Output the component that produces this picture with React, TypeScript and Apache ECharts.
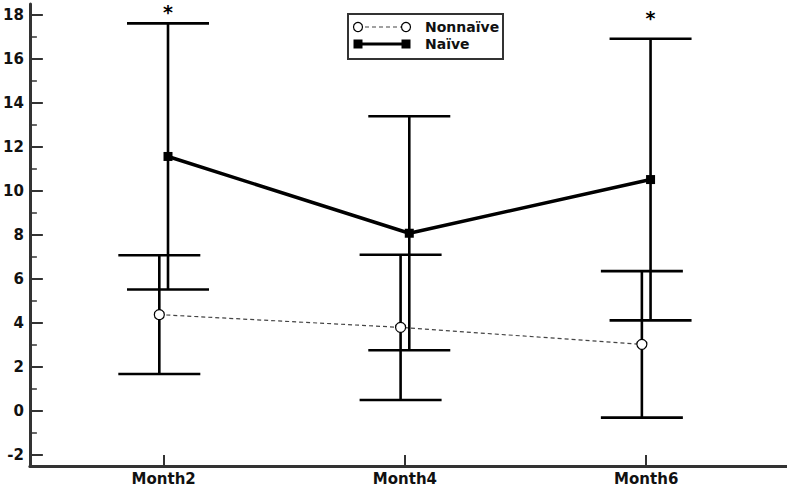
import React, { useEffect, useRef } from "react";
import * as echarts from "echarts";

const CATEGORIES = ["Month2", "Month4", "Month6"];
const MONTHS = [2, 4, 6];
const NONNAIVE_MEAN = [4.38, 3.8, 3.03];
const NONNAIVE_SD = [2.7, 3.3, 3.33];
const NAIVE_MEAN = [11.57, 8.08, 10.52];
const NAIVE_SD = [6.05, 5.32, 6.4];
const SIG_MARK = ["*", "", "*"];
const SIG_Y = [18.36, 0, 18.1];
const Y_TICKS = [-2, 0, 2, 4, 6, 8, 10, 12, 14, 16, 18];
const Y_MINOR_TICKS = [-1, 1, 3, 5, 7, 9, 11, 13, 15, 17];

const FONT = '"DejaVu Sans", "Liberation Sans", Arial, sans-serif';
const DODGE = 0.036;
const CAP_HALF = 41;

function errorBarSeries(name: string, xs: number[], mean: number[], sd: number[]) {
  return {
    type: "custom",
    name: name + " SD",
    z: 1,
    clip: false,
    data: xs.map((x, i) => [x, mean[i], sd[i]]),
    renderItem: (params: any, api: any) => {
      const x = api.value(0);
      const m = api.value(1);
      const s = api.value(2);
      const top = api.coord([x, m + s]);
      const bot = api.coord([x, m - s]);
      const style = { stroke: "#000", lineWidth: 2.6 };
      return {
        type: "group",
        children: [
          { type: "line", shape: { x1: top[0], y1: top[1], x2: bot[0], y2: bot[1] }, style },
          { type: "line", shape: { x1: top[0] - CAP_HALF, y1: top[1], x2: top[0] + CAP_HALF, y2: top[1] }, style },
          { type: "line", shape: { x1: bot[0] - CAP_HALF, y1: bot[1], x2: bot[0] + CAP_HALF, y2: bot[1] }, style },
        ],
      };
    },
  };
}

export default function App() {
  const ref = useRef<HTMLDivElement>(null);
  useEffect(() => {
    if (!ref.current) return;
    const chart = echarts.init(ref.current, null, { renderer: "svg" });
    const nonX = MONTHS.map((m) => m - DODGE);
    const naiveX = MONTHS.map((m) => m + DODGE);
    const axisLine = { show: true, onZero: false, lineStyle: { color: "#333", width: 3 } };
    const labelStyle = { color: "#111", fontWeight: "bold", fontSize: 15, fontFamily: FONT };
    chart.setOption({
      animation: false,
      backgroundColor: "#fff",
      grid: { left: 26, right: 0, top: 4, bottom: 19, containLabel: false },
      xAxis: {
        type: "value",
        min: 0.891,
        max: 7.167,
        splitLine: { show: false },
        axisLine,
        axisTick: { show: true, inside: true, length: 11, customValues: MONTHS, lineStyle: { color: "#333", width: 2 } },
        axisLabel: {
          ...labelStyle,
          margin: 5,
          customValues: MONTHS,
          formatter: (v: number) => CATEGORIES[MONTHS.indexOf(Math.round(v))] ?? "",
        },
      },
      yAxis: [
        {
          type: "value",
          min: -2.5,
          max: 18.5,
          splitLine: { show: false },
          axisLine,
          axisTick: { show: true, inside: true, length: 13, customValues: Y_TICKS, lineStyle: { color: "#333", width: 2 } },
          axisLabel: { ...labelStyle, margin: 6, customValues: Y_TICKS },
        },
        {
          type: "value",
          position: "left",
          min: -2.5,
          max: 18.5,
          splitLine: { show: false },
          axisLine: { show: false, onZero: false },
          axisTick: { show: true, inside: true, length: 7, customValues: Y_MINOR_TICKS, lineStyle: { color: "#333", width: 1.5 } },
          axisLabel: { show: false },
        },
      ],
      series: [
        errorBarSeries("Nonnaïve", nonX, NONNAIVE_MEAN, NONNAIVE_SD),
        errorBarSeries("Naïve", naiveX, NAIVE_MEAN, NAIVE_SD),
        {
          type: "line",
          name: "Nonnaïve",
          z: 3,
          data: nonX.map((x, i) => [x, NONNAIVE_MEAN[i]]),
          symbol: "circle",
          symbolSize: 10,
          itemStyle: { color: "#fff", borderColor: "#000", borderWidth: 1.2 },
          lineStyle: { color: "#444", width: 1.2, type: [4, 3] },
        },
        {
          type: "line",
          name: "Naïve",
          z: 4,
          data: naiveX.map((x, i) => [x, NAIVE_MEAN[i]]),
          symbol: "rect",
          symbolSize: 9,
          itemStyle: { color: "#000" },
          lineStyle: { color: "#000", width: 3.5 },
        },
        {
          type: "custom",
          name: "significance",
          z: 5,
          clip: false,
          data: naiveX.map((x, i) => [x, SIG_Y[i], i]),
          renderItem: (params: any, api: any) => {
            const i = api.value(2);
            const mark = SIG_MARK[i];
            if (!mark) return null;
            const p = api.coord([api.value(0), api.value(1)]);
            return {
              type: "text",
              x: p[0],
              y: p[1] + 5,
              style: { text: mark, fill: "#000", font: `bold 19px ${FONT}`, align: "center", verticalAlign: "middle" },
            };
          },
        },
      ],
      graphic: [
        { type: "rect", shape: { x: 348, y: 14, width: 155, height: 45 }, style: { fill: "#fff", stroke: "#333", lineWidth: 2 }, z: 10 },
        { type: "line", shape: { x1: 358, y1: 27, x2: 406, y2: 27 }, style: { stroke: "#444", lineWidth: 1.2, lineDash: [4, 3] }, z: 11 },
        { type: "circle", shape: { cx: 358, cy: 27, r: 4.5 }, style: { fill: "#fff", stroke: "#000", lineWidth: 1.2 }, z: 12 },
        { type: "circle", shape: { cx: 406, cy: 27, r: 4.5 }, style: { fill: "#fff", stroke: "#000", lineWidth: 1.2 }, z: 12 },
        { type: "text", x: 425, y: 27, style: { text: "Nonnaïve", fill: "#111", font: `bold 14px ${FONT}`, verticalAlign: "middle" }, z: 12 },
        { type: "line", shape: { x1: 358, y1: 44, x2: 406, y2: 44 }, style: { stroke: "#000", lineWidth: 3 }, z: 11 },
        { type: "rect", shape: { x: 353.5, y: 39.5, width: 9, height: 9 }, style: { fill: "#000" }, z: 12 },
        { type: "rect", shape: { x: 401.5, y: 39.5, width: 9, height: 9 }, style: { fill: "#000" }, z: 12 },
        { type: "text", x: 425, y: 44, style: { text: "Naïve", fill: "#111", font: `bold 14px ${FONT}`, verticalAlign: "middle" }, z: 12 },
      ],
    });
    return () => chart.dispose();
  }, []);
  return <div ref={ref} style={{ position: "fixed", left: 0, top: 0, width: 787, height: 486 }} />;
}
